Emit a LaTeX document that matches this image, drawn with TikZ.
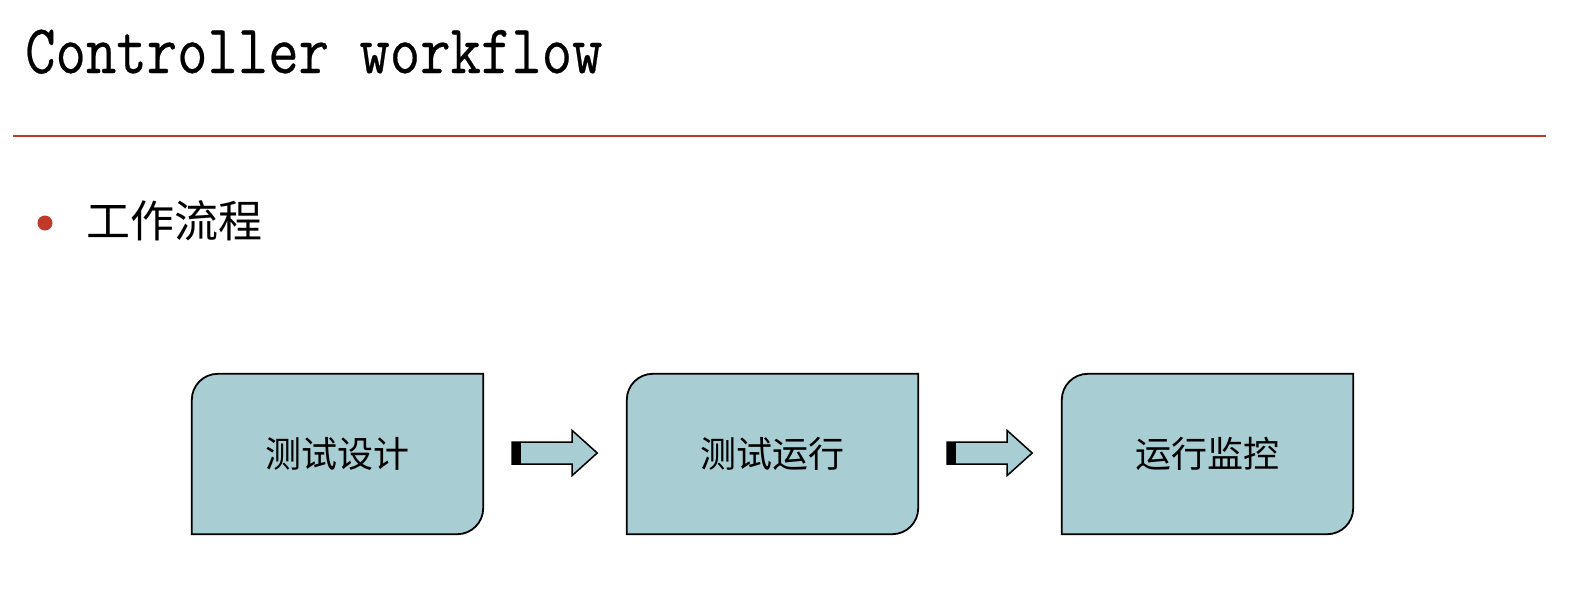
\documentclass[tikz,border=0pt]{standalone}
\usepackage{fontspec}
\newfontfamily\cjk{Noto Sans CJK SC}
\newfontfamily\titlefont[FakeBold=0.4]{Latin Modern Mono}
\usetikzlibrary{calc,backgrounds}
\definecolor{rulered}{RGB}{192,57,43}
\definecolor{boxfill}{RGB}{168,205,210}
\tikzset{
  stagebox/.style={minimum width=291pt, minimum height=160pt, inner sep=0pt, font=\cjk\fontsize{36}{40}\selectfont},
  boxline/.style={draw=black, line width=1.8pt, fill=boxfill},
  arrowbody/.style={draw=black, line width=1.5pt, fill=boxfill, line join=miter},
}
\begin{document}
\begin{tikzpicture}[x=1pt,y=1pt]
\begin{scope}[on background layer]
\fill[white] (0,0) rectangle (1590,-598);
\end{scope}
\useasboundingbox (0,0) rectangle (1590,-598);
% title
\node[anchor=base west, inner sep=0pt] (title) at (25,-73)
  {\scalebox{1}[1.18]{\titlefont\fontsize{59}{62}\selectfont Controller workflow}};
\draw[rulered, line width=2pt] (13,-136) coordinate (rl) -- (1546,-136) coordinate (rr);
% bullet
\fill[rulered] (45,-223) circle (7.5pt) coordinate (dot);
\node[anchor=west, inner sep=0pt, font=\cjk\fontsize{44}{48}\selectfont] (bullet) at (86,-221) {工作流程};
% boxes
\node[stagebox] (b1) at (337.5,-454) {测试设计};
\node[stagebox] (b2) at (772.5,-454) {测试运行};
\node[stagebox] (b3) at (1207.5,-454) {运行监控};
\begin{scope}[on background layer]
\foreach \b in {b1,b2,b3}{
  \draw[boxline] ([yshift=-26pt]\b.north west) arc[start angle=180, end angle=90, radius=26pt]
    -- (\b.north east) -- ([yshift=26pt]\b.south east) arc[start angle=0, end angle=-90, radius=26pt]
    -- (\b.south west) -- cycle;
}
\end{scope}
% arrows
\foreach \a/\b in {b1/b2,b2/b3}{
  \coordinate (s) at ($(\a.east)+(29,1)$);
  \draw[arrowbody] (s) ++(0,11) -- ++(60,0) -- ++(0,11.5) -- ++(25,-22.5) -- ++(-25,-22.5) -- ++(0,11.5) -- ++(-60,0) -- cycle;
  \fill[black] ($(s)+(0,11)$) rectangle ($(s)+(9,-11)$);
}
\end{tikzpicture}
\end{document}
